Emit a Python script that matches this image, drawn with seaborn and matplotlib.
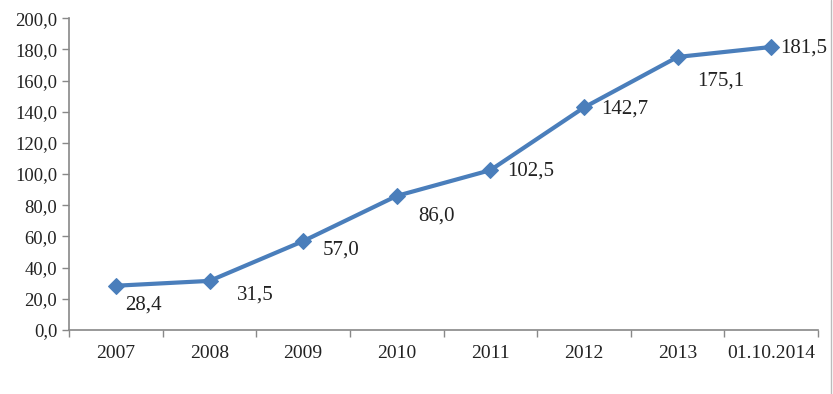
import matplotlib
matplotlib.use("Agg")
import matplotlib.pyplot as plt
import seaborn as sns
import pandas as pd
from matplotlib.lines import Line2D
from matplotlib.ticker import FixedLocator, FuncFormatter

categories = ["2007", "2008", "2009", "2010", "2011", "2012", "2013", "01.10.2014"]
values = [28.4, 31.5, 57.0, 86.0, 102.5, 142.7, 175.1, 181.5]

sns.set_theme(style="white")
plt.rcParams['font.family'] = ['Liberation Serif', 'DejaVu Serif']

df = pd.DataFrame({"cat": categories, "val": values})
df["x"] = range(len(df))

fig = plt.figure(figsize=(8.33, 3.94), dpi=100)
ax = fig.add_axes([0.083, 0.1624, 0.899, 0.7916])

color = "#4A7EBB"
sns.lineplot(data=df, x="x", y="val", ax=ax, color=color, linewidth=3,
             marker="D", markersize=8, markeredgecolor=color, markerfacecolor=color)

ax.set_xlim(-0.5, len(categories) - 0.5)
ax.set_ylim(0, 200)
ax.set_yticks([0, 20, 40, 60, 80, 100, 120, 140, 160, 180, 200])
ax.yaxis.set_major_formatter(FuncFormatter(lambda v, p: f"{v:.1f}".replace(".", ",")))
ax.set_xticks(range(len(categories)))
ax.set_xticklabels(categories)
ax.xaxis.set_minor_locator(FixedLocator([i - 0.5 for i in range(len(categories) + 1)]))
ax.tick_params(axis="x", which="major", length=0, pad=11, labelsize=14, colors="#222222")
ax.tick_params(axis="x", which="minor", length=5, width=1, color="#888888", direction="out", bottom=True)
ax.tick_params(axis="y", length=5, width=1, color="#888888", direction="out", left=True, labelsize=13.4, colors="#222222")
ax.set_xlabel("")
ax.set_ylabel("")

for s in ["top", "right"]:
    ax.spines[s].set_visible(False)
for s in ["left", "bottom"]:
    ax.spines[s].set_color("#888888")
    ax.spines[s].set_linewidth(1.2)

offsets = [(27, -19), (46, -14), (38, -9), (40, -20), (40, -1), (41, -2), (43, -24), (32, -1)]
for i, (v, off) in enumerate(zip(values, offsets)):
    ax.annotate(f"{v:.1f}".replace(".", ","), xy=(i, v), xytext=off, textcoords="offset pixels",
                ha="center", va="center", fontsize=15, color="#222222")

fig.add_artist(Line2D([0.997, 0.997], [0, 1], transform=fig.transFigure, color="#bbbbbb", linewidth=1))

fig.savefig("out.png", dpi=100)
